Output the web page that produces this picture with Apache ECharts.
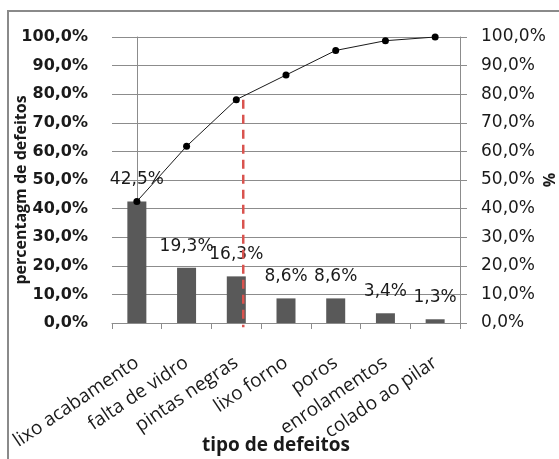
<!DOCTYPE html>
<html>
<head>
<meta charset="utf-8">
<script src="https://cdn.jsdelivr.net/npm/echarts@6/dist/echarts.min.js"></script>
<style>
  html, body { margin: 0; padding: 0; background: #fff; }
  #chart { width: 559px; height: 459px; }
</style>
</head>
<body>
<div id="chart"></div>
<script>
// Defect types, ordered by frequency (Pareto)
const categories = ['lixo acabamento', 'falta de vidro', 'pintas negras', 'lixo forno', 'poros', 'enrolamentos', 'colado ao pilar'];
// Share of each defect type (%)
const defectShare = [42.5, 19.3, 16.3, 8.6, 8.6, 3.4, 1.3];
// Cumulative share (%)
const cumulativeShare = [42.5, 61.8, 78.1, 86.7, 95.3, 98.7, 100.0];
// Percentage axis ticks
const percentTicks = [0, 10, 20, 30, 40, 50, 60, 70, 80, 90, 100];
// 80/20 cut-off marker: position along the category scale and its vertical span (%)
const cutoffX = 2.14;
const cutoffSpan = [78.1, -1.5];

const fmtPct = v => v.toFixed(1).replace('.', ',') + '%';
const gridColor = '#8c8c8c';
const textColor = '#1a1a1a';

const chart = echarts.init(document.getElementById('chart'), null, { renderer: 'canvas' });

chart.setOption({
  animation: false,
  backgroundColor: '#ffffff',
  graphic: [{
    type: 'rect',
    shape: { x: 8, y: 11, width: 620, height: 520 },
    style: { fill: 'none', stroke: '#8a8a8a', lineWidth: 2 },
    silent: true
  }],
  grid: { left: 112, right: 99, top: 37, bottom: 136, containLabel: false, outerBoundsMode: 'none' },
  xAxis: [{
    type: 'category',
    data: categories,
    boundaryGap: true,
    axisLine: { show: true, lineStyle: { color: gridColor, width: 1 } },
    axisTick: { show: true, length: 6, interval: 0, lineStyle: { color: gridColor } },
    axisLabel: {
      interval: 0, rotate: 34, margin: 38,
      fontFamily: 'Open Sans', fontSize: 19, color: textColor
    },
    name: 'tipo de defeitos',
    nameLocation: 'middle',
    nameGap: 113,
    nameMoveOverlap: false,
    nameTextStyle: { fontFamily: 'Open Sans', fontWeight: 'bold', fontSize: 19, color: textColor, padding: [0, 20, 0, 0] }
  }, {
    type: 'value',
    min: -0.5, max: 6.5,
    show: false
  }],
  yAxis: [{
    type: 'value',
    min: percentTicks[0], max: percentTicks[percentTicks.length - 1], interval: 10,
    axisLine: { show: true, lineStyle: { color: gridColor, width: 1 } },
    axisTick: { show: true, length: 8, lineStyle: { color: gridColor } },
    splitLine: { show: true, lineStyle: { color: gridColor, width: 1 } },
    axisLabel: {
      margin: 24, formatter: v => fmtPct(v),
      fontFamily: 'DejaVu Sans', fontWeight: 'bold', fontSize: 16, color: textColor
    },
    name: 'percentagm de defeitos',
    nameLocation: 'middle',
    nameGap: 83,
    nameMoveOverlap: false,
    nameTextStyle: { fontFamily: 'Open Sans', fontWeight: 'bold', fontSize: 16, color: textColor, padding: [0, 20, 0, 0] }
  }, {
    type: 'value',
    position: 'right',
    min: percentTicks[0], max: percentTicks[percentTicks.length - 1], interval: 10,
    axisLine: { show: true, lineStyle: { color: gridColor, width: 1 } },
    axisTick: { show: true, length: 7, lineStyle: { color: gridColor } },
    splitLine: { show: false },
    axisLabel: {
      margin: 21, formatter: v => fmtPct(v),
      fontFamily: 'DejaVu Sans', fontSize: 17, color: textColor
    },
    name: '%',
    nameLocation: 'middle',
    nameGap: 82,
    nameMoveOverlap: false,
    nameTextStyle: { fontFamily: 'Open Sans', fontWeight: 'bold', fontSize: 16, color: textColor }
  }],
  series: [{
    name: 'percentagem',
    type: 'bar',
    xAxisIndex: 0, yAxisIndex: 0,
    data: defectShare,
    barWidth: 19,
    itemStyle: { color: '#595959' },
    label: {
      show: true, position: 'top', distance: 13,
      formatter: p => fmtPct(p.value),
      fontFamily: 'DejaVu Sans', fontSize: 17, color: textColor
    },
    z: 2
  }, {
    name: 'acumulado',
    type: 'line',
    xAxisIndex: 0, yAxisIndex: 1,
    data: cumulativeShare,
    symbol: 'circle', symbolSize: 7,
    lineStyle: { color: '#1a1a1a', width: 1 },
    itemStyle: { color: '#000000' },
    z: 3
  }, {
    name: 'corte',
    type: 'line',
    xAxisIndex: 1, yAxisIndex: 0,
    data: cutoffSpan.map(v => [cutoffX, v]),
    symbol: 'none',
    clip: false,
    lineStyle: { color: '#d9534f', width: 2.5, type: [9, 6] },
    z: 4
  }]
});
</script>
</body>
</html>
